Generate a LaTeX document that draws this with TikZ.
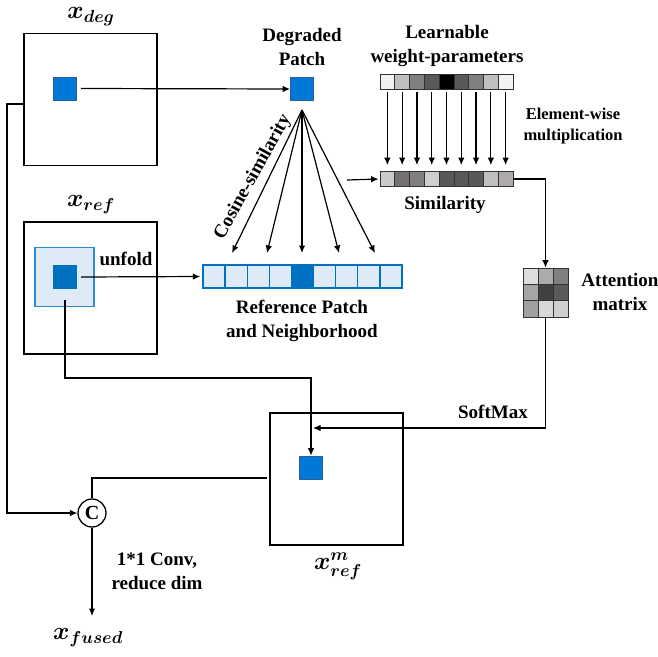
\documentclass[tikz,border=0pt]{standalone}
\usepackage{amsmath,bm}
\usepackage{fontspec}
\setmainfont{Liberation Serif}
\usetikzlibrary{arrows.meta}
\definecolor{patchblue}{HTML}{0078D7}
\definecolor{patchedge}{HTML}{2E5F94}
\definecolor{darkblue}{HTML}{0070C0}
\definecolor{lightblue}{HTML}{DEEBF7}
\definecolor{nbedge}{HTML}{2E8BD0}
\tikzset{
  fmap/.style={draw, line width=1.3pt, minimum width=133pt, minimum height=132pt, inner sep=0pt},
  patch/.style={draw=patchedge, fill=patchblue, minimum size=23pt, inner sep=0pt, line width=0.8pt},
  lbl/.style={font=\bfseries\fontsize{19}{24}\selectfont, align=center, inner sep=0pt},
  small/.style={font=\bfseries\fontsize{16.5}{21}\selectfont, align=center, inner sep=0pt},
  mlbl/.style={font=\fontsize{25}{27}\selectfont, inner sep=0pt},
  conn/.style={line width=1.2pt, -{Latex[length=7.5pt,width=6.5pt]}},
  line/.style={line width=1.2pt},
  gcell/.style={draw=black!80, line width=0.7pt, minimum width=14.78pt, minimum height=15pt, inner sep=0pt},
  rcell/.style={draw=darkblue, line width=1.4pt, fill=lightblue, minimum width=22.1pt, minimum height=23pt, inner sep=0pt},
  acell/.style={draw=black!80, line width=0.7pt, minimum width=15pt, minimum height=16.3pt, inner sep=0pt},
}
\begin{document}
\begin{tikzpicture}[x=1pt,y=-1pt]
\useasboundingbox (0,0) rectangle (658,656);

% feature maps
\node[fmap] (deg) at (90.5,99.5) {};
\node[fmap] (ref) at (90.5,288) {};
\node[fmap] (refm) at (336.5,479) {};

\node[mlbl] (ldeg) at (91,16.5) {$\bm{x_{deg}}$};
\node[mlbl] (lref) at (91,205) {$\bm{x_{ref}}$};
\node[mlbl] (lrefm) at (338,566) {$\bm{x_{ref}^{m}}$};
\node[mlbl] (lfused) at (88,638) {$\bm{x_{fused}}$};

% patches
\node[patch] (dpatch) at (65,88.5) {};
\node[patch] (gpatch) at (302,89) {};
\node[draw=nbedge, fill=lightblue, line width=1.2pt, minimum size=59pt, inner sep=0pt] (nb) at (64.5,277) {};
\node[fill=darkblue, minimum size=24pt, inner sep=0pt] (rpatch) at (65,277) {};
\node[patch] (mpatch) at (311,467.5) {};

% labels
\node[lbl] (tdeg) at (302,47) {Degraded\\Patch};
\node[lbl] (tlearn) at (447,46) {Learnable\\weight-parameters};
\node[small] (telem) at (573,126) {Element-wise\\multiplication};
\node[lbl] (tsim) at (445,205) {Similarity};
\node[lbl] (tatt) at (620,292) {Attention\\matrix};
\node[lbl] (tref) at (302,321) {Reference Patch\\and Neighborhood};
\node[lbl] (tunf) at (126,259) {unfold};
\node[lbl] (tsoft) at (493,412) {SoftMax};
\node[lbl] (tconv) at (157,571) {1*1 Conv,\\reduce dim};
\node[lbl, rotate=61] (tcos) at (253,177) {Cosine-similarity};

% weight strip
\foreach \i/\c in {1/F2F2F2,2/BFBFBF,3/808080,4/595959,5/000000,6/595959,7/808080,8/BFBFBF,9/F2F2F2}{
  \definecolor{tmpc}{HTML}{\c}
  \node[gcell, fill=tmpc] (w\i) at ({380+14.78*(\i-0.5)},81.5) {};
}
% similarity strip
\foreach \i/\c in {1/CACACA,2/767171,3/808080,4/D0CECE,5/595959,6/595959,7/595959,8/BFBFBF,9/AEAAAA}{
  \definecolor{tmpc}{HTML}{\c}
  \node[gcell, fill=tmpc] (s\i) at ({380+14.78*(\i-0.5)},179) {};
}
\foreach \i in {1,...,9}{
  \draw[conn] ([yshift=-3pt]w\i.south) -- ([yshift=6pt]s\i.north);
}
% reference strip
\foreach \i in {1,...,9}{
  \node[rcell] (r\i) at ({203+22.1*(\i-0.5)},276.5) {};
}
\node[rcell, fill=darkblue] (r5c) at (r5) {};

% attention matrix
\foreach \r/\cs in {1/{DDDDDD,ABABAB,808080},2/{A5A5A5,404040,5A5A5A},3/{A0A0A0,D8D8D8,CFCFCF}}{
  \foreach \c [count=\k] in \cs {
    \definecolor{tmpc}{HTML}{\c}
    \node[acell, fill=tmpc] (a\r\k) at ({523+15*(\k-0.5)},{268+16.3*(\r-0.5)}) {};
  }
}

% concat node
\node[circle, draw, line width=1.3pt, minimum size=28pt, inner sep=0pt, font=\bfseries\fontsize{20}{24}\selectfont] (C) at (92,513) {C};

% coordinates
\coordinate (dl) at (24,104);
\coordinate (lft) at (7,104);
\coordinate (cm) at (267,478);
\coordinate (rb) at (65,300);
\coordinate (rd) at (65,378);
\coordinate (sin) at (347,180);
\coordinate (sm) at (313,428);
\coordinate (fe) at (92,616);
\coordinate (f1) at (232,253);
\coordinate (f2) at (267,253);
\coordinate (f3) at (302,253);
\coordinate (f4) at (339,253);
\coordinate (f5) at (375,253);
\coordinate (apex) at (302,110);
\coordinate (sbend) at (545.5,230);

% connectors
\draw[conn] ([xshift=4pt]dpatch.east) -- (gpatch.west);
\draw[conn] (dl) -- (lft) |- (C.west);
\draw[line] (C.north) |- (cm);
\draw[conn] (C.south) -- (fe);
\draw[conn] ([xshift=4pt]rpatch.east) -- ([xshift=-2pt]r1.west);
\draw[conn] (rb) -- (rd) -| (mpatch.north);
\foreach \j in {1,...,5}{ \draw[conn] (apex) -- (f\j); }
\draw[conn] (sin) -- ([xshift=-1pt]s1.west);
\draw[conn] (s9.east) -| (a12.north);
\draw[conn] (a32.south) |- (sm);
\end{tikzpicture}
\end{document}
